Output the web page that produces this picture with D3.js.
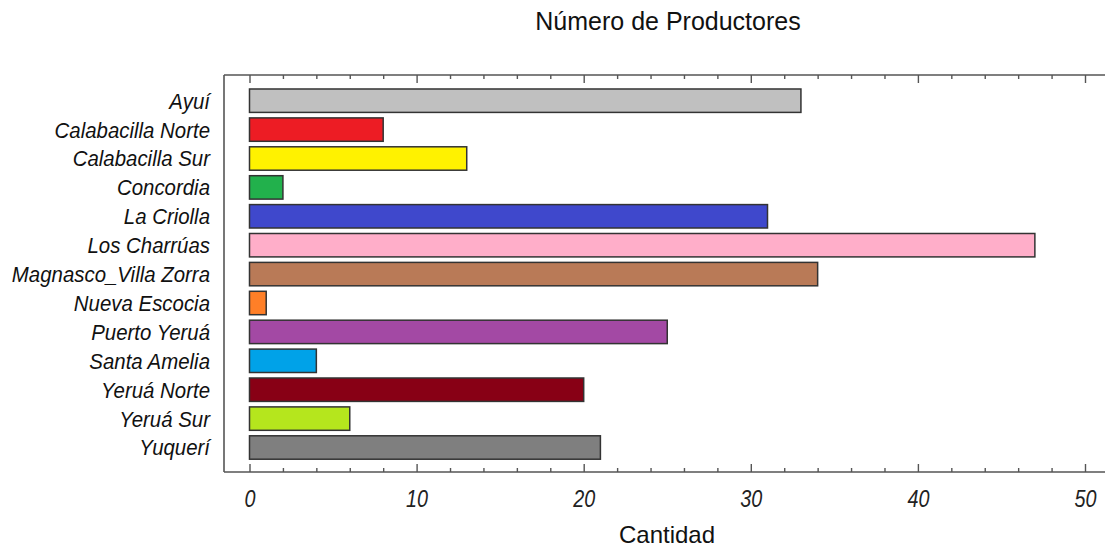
<!DOCTYPE html>
<html><head><meta charset="utf-8">
<script src="https://cdn.jsdelivr.net/npm/d3@7"></script>
<style>body{margin:0;background:#fff}svg{display:block}</style>
</head><body>
<svg id="chart" width="1105" height="548"></svg>
<script>
const categories = ["Ayuí","Calabacilla Norte","Calabacilla Sur","Concordia","La Criolla","Los Charrúas","Magnasco_Villa Zorra","Nueva Escocia","Puerto Yeruá","Santa Amelia","Yeruá Norte","Yeruá Sur","Yuquerí"];
const values = [33,8,13,2,31,47,34,1,25,4,20,6,21];
const colors = ["#c0c0c0","#ed1c24","#fff200","#22b14c","#3f48cc","#ffaec9","#b97a57","#ff7f27","#a349a4","#00a2e8","#880015","#b5e61d","#7f7f7f"];
const majorTicks = [0,10,20,30,40,50];
const minorTicks = [2,4,6,8,12,14,16,18,22,24,26,28,32,34,36,38,42,44,46,48];
const chartTitle = "Número de Productores";
const xTitle = "Cantidad";

const svg = d3.select("#chart");
const pLeft = 224, pTop = 75, pBottom = 472, pRight = 1105;
const x = d3.scaleLinear().domain([0,50]).range([249.5,1085]);
const y = d3.scaleBand().domain(categories).range([86.1,462.1]).paddingInner(0.19).paddingOuter(0.1);
const axisColor = "#555";
const font = "'Liberation Sans',Arial,sans-serif";

// frame lines
svg.append("line").attr("x1",pLeft).attr("x2",pRight).attr("y1",pTop).attr("y2",pTop).attr("stroke",axisColor).attr("stroke-width",1.6);
svg.append("line").attr("x1",pLeft).attr("x2",pRight).attr("y1",pBottom).attr("y2",pBottom).attr("stroke",axisColor).attr("stroke-width",1.6);
svg.append("line").attr("x1",pLeft).attr("x2",pLeft).attr("y1",pTop).attr("y2",pBottom).attr("stroke",axisColor).attr("stroke-width",1.6);

// bottom axis
const bAxis = svg.append("g").attr("transform",`translate(0,${pBottom})`)
  .call(d3.axisBottom(x).tickValues(majorTicks).tickSizeInner(-8).tickSizeOuter(0).tickPadding(0).tickFormat(d3.format("d")));
bAxis.select(".domain").remove();
bAxis.selectAll(".tick line").attr("stroke",axisColor).attr("stroke-width",1.4);
bAxis.selectAll(".tick text").attr("y",0).attr("dy",0).attr("font-family",font)
  .attr("font-style","italic").attr("font-size",23).attr("fill","#222")
  .attr("transform","translate(0,35) scale(0.86,1)");
const bMinor = svg.append("g").attr("transform",`translate(0,${pBottom})`)
  .call(d3.axisBottom(x).tickValues(minorTicks).tickSizeInner(-4).tickSizeOuter(0).tickFormat(""));
bMinor.select(".domain").remove();
bMinor.selectAll(".tick line").attr("stroke",axisColor).attr("stroke-width",1.4);

// top axis
const tAxis = svg.append("g").attr("transform",`translate(0,${pTop})`)
  .call(d3.axisTop(x).tickValues(majorTicks).tickSizeInner(-8).tickSizeOuter(0).tickFormat(""));
tAxis.select(".domain").remove();
tAxis.selectAll(".tick line").attr("stroke",axisColor).attr("stroke-width",1.4);
const tMinor = svg.append("g").attr("transform",`translate(0,${pTop})`)
  .call(d3.axisTop(x).tickValues(minorTicks).tickSizeInner(-4).tickSizeOuter(0).tickFormat(""));
tMinor.select(".domain").remove();
tMinor.selectAll(".tick line").attr("stroke",axisColor).attr("stroke-width",1.4);

// bars
svg.append("g").selectAll("rect").data(categories).join("rect")
  .attr("x",x(0)).attr("y",d=>y(d))
  .attr("width",(d,i)=>x(values[i])-x(0)).attr("height",y.bandwidth())
  .attr("fill",(d,i)=>colors[i]).attr("stroke","#333").attr("stroke-width",1.5);

// y labels
svg.append("g").selectAll("text").data(categories).join("text")
  .attr("transform",d=>`translate(210,${y(d)+y.bandwidth()/2}) scale(0.95,1)`)
  .attr("dy","0.37em")
  .attr("text-anchor","end").attr("font-family",font)
  .attr("font-style","italic").attr("font-size",21.5).attr("fill","#111").text(d=>d);

// titles
svg.append("text").attr("x",668).attr("y",30).attr("text-anchor","middle")
  .attr("font-family",font).attr("font-size",25).attr("fill","#111").text(chartTitle);
svg.append("text").attr("x",667).attr("y",543).attr("text-anchor","middle")
  .attr("font-family",font).attr("font-size",24).attr("fill","#111").text(xTitle);
</script>
</body></html>
